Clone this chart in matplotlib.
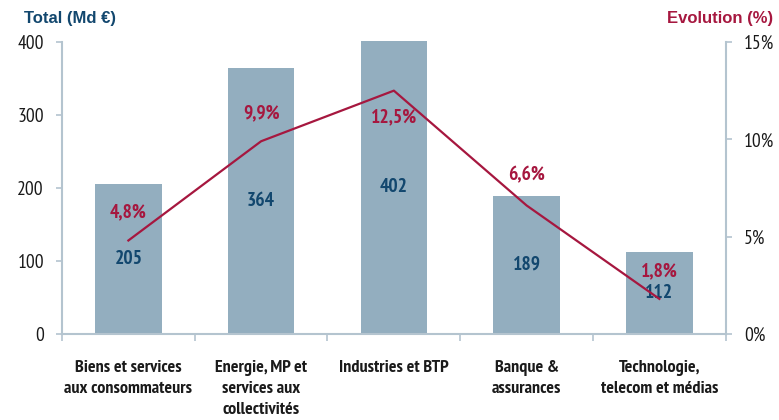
import matplotlib.pyplot as plt
import numpy as np

categories = ["Biens et services\naux consommateurs",
              "Energie, MP et\nservices aux\ncollectivités",
              "Industries et BTP",
              "Banque &\nassurances",
              "Technologie,\ntelecom et médias"]
totals = [205, 364, 402, 189, 112]
evolution = [4.8, 9.9, 12.5, 6.6, 1.8]
left_ticks = [0, 100, 200, 300, 400]
right_ticks = [0, 5, 10, 15]

bar_col = "#93AEBF"
red = "#A6173F"
blue = "#12476E"
axis_col = "#B4C4CF"
narrow = ["PT Sans Narrow", "DejaVu Sans"]

fig = plt.figure(figsize=(7.79, 4.2), dpi=100)
ax = fig.add_axes([0.0796, 0.205, 0.852, 0.695])
ax2 = ax.twinx()

x = np.arange(len(categories))
ax.bar(x, totals, width=0.5, color=bar_col, clip_on=False, zorder=2)
ax.set_xlim(-0.5, len(categories) - 0.5)
ax.set_ylim(0, 400)
ax2.set_ylim(0, 15)

ax2.plot(x, evolution, color=red, lw=1.6, zorder=3)

# labels on bars (middle of bar)
for xi, v in zip(x, totals):
    ax.text(xi, v / 2, str(v), ha="center", va="center", color=blue,
            fontsize=14, fontweight="bold", family=narrow, zorder=4)

# percent labels, above the line except the peak
offsets = [20, 20, -19, 22, 20]
for xi, v, off in zip(x, evolution, offsets):
    ax2.annotate(f"{v:.1f}%".replace(".", ","), (xi, v), xytext=(0, off),
                 textcoords="offset points", ha="center", va="center",
                 color=red, fontsize=14, fontweight="bold", family=narrow)

# axes styling
for a in (ax, ax2):
    for s in a.spines.values():
        s.set_visible(False)
ax.spines["left"].set_visible(True)
ax.spines["bottom"].set_visible(True)
ax2.spines["right"].set_visible(True)
for s in (ax.spines["left"], ax.spines["bottom"], ax2.spines["right"]):
    s.set_color(axis_col)
    s.set_linewidth(1.5)

ax.set_yticks(left_ticks)
ax.set_yticklabels([str(t) for t in left_ticks], family=narrow, fontsize=14)
ax.tick_params(axis="y", length=4, width=1.2, color=axis_col, pad=9, labelcolor="#1a1a1a")

ax2.set_yticks(right_ticks)
ax2.set_yticklabels([f"{t}%" for t in right_ticks], family=narrow, fontsize=14)
ax2.tick_params(axis="y", length=4, width=1.2, color=axis_col, pad=9, labelcolor="#1a1a1a")

ax.set_xticks(x)
ax.set_xticklabels(categories, family=narrow, fontsize=13, fontweight="bold",
                   linespacing=1.4, va="top")
ax.tick_params(axis="x", length=0, pad=19, labelcolor="#1a1a1a")
ax.set_xticks(np.arange(-0.5, len(categories)), minor=True)
ax.tick_params(axis="x", which="minor", length=5, width=1.2, color=axis_col)

fig.text(0.031, 0.955, "Total (Md €)", color=blue, fontsize=12, fontweight="bold",
         family="Liberation Sans", ha="left", va="center")
fig.text(0.992, 0.955, "Evolution (%)", color=red, fontsize=12, fontweight="bold",
         family="Liberation Sans", ha="right", va="center")

fig.savefig("out.png", dpi=100)
